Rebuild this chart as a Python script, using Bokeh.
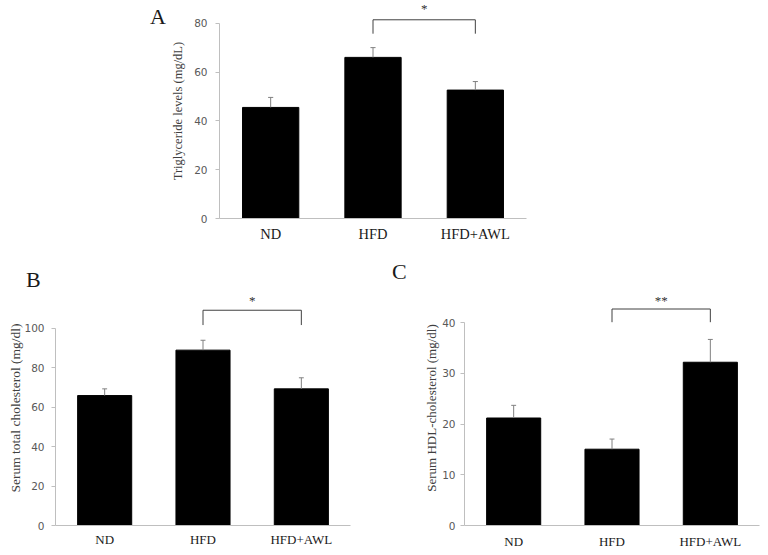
from bokeh.plotting import figure
from bokeh.layouts import column, row
from bokeh.models import ColumnDataSource, FixedTicker, Range1d, Div
from bokeh.core.properties import value
from bokeh.embed import file_html
from bokeh.resources import INLINE

# ---- data ----
groups = ["ND", "HFD", "HFD+AWL"]

tg_mean = [45.5, 66.0, 52.6]
tg_err = [4.1, 4.0, 3.5]

tc_mean = [65.8, 88.8, 69.2]
tc_err = [3.4, 5.0, 5.6]

hdl_mean = [21.2, 15.05, 32.2]
hdl_err = [2.5, 2.0, 4.5]

tg_ticks = [0, 20, 40, 60, 80]
tc_ticks = [0, 20, 40, 60, 80, 100]
hdl_ticks = [0, 10, 20, 30, 40]

SERIF = "Liberation Serif"
SANS = "DejaVu Sans"
AXIS_GREY = "#bfbfbf"


def panel(means, errs, ticks, y_end, ylabel, sig, sig_y,
          width, height, bl, br, bt, bb, ylab_size, xlab_size,
          tick_standoff, ylab_standoff, xlab_standoff):
    xs = list(range(len(groups)))
    tops = [m + e for m, e in zip(means, errs)]
    src = ColumnDataSource(dict(x=xs, mean=means, top=tops))

    p = figure(width=width, height=height, output_backend="svg",
               toolbar_location=None, x_range=Range1d(-0.5, 2.5),
               y_range=Range1d(0, y_end),
               min_border_left=bl, min_border_right=br,
               min_border_top=bt, min_border_bottom=bb, margin=0)
    p.outline_line_color = None
    p.grid.visible = False
    p.background_fill_color = "white"
    p.border_fill_color = "white"

    p.vbar(x="x", top="mean", width=0.55, source=src,
           fill_color="black", line_color="black")
    # upper error bars
    p.segment(x0="x", y0="mean", x1="x", y1="top", source=src,
              line_color="#808080", line_width=1)
    cap = 0.025
    p.segment(x0=[x - cap for x in xs], y0=tops, x1=[x + cap for x in xs],
              y1=tops, line_color="#808080", line_width=1)

    # significance bracket between HFD and HFD+AWL
    lo, hi, star_y = sig_y
    p.segment(x0=[1, 1, 2], y0=[lo, hi, hi], x1=[1, 2, 2], y1=[hi, hi, lo],
              line_color="#404040", line_width=1)
    p.text(x=[1.5], y=[star_y], text=[sig], text_font=value(SERIF),
           text_font_size="13px", text_align="center",
           text_baseline="middle", text_color="#303030")

    # axes
    ya = p.yaxis[0]
    ya.ticker = FixedTicker(ticks=ticks)
    ya.bounds = (ticks[0], ticks[-1])
    ya.axis_line_color = AXIS_GREY
    ya.major_tick_line_color = AXIS_GREY
    ya.major_tick_out = 4
    ya.major_tick_in = 0
    ya.minor_tick_line_color = None
    ya.major_label_text_font = SANS
    ya.major_label_text_font_size = "10.5px"
    ya.major_label_text_color = "#595959"
    ya.major_label_standoff = tick_standoff
    ya.axis_label = ylabel
    ya.axis_label_text_font = SERIF
    ya.axis_label_text_font_style = "normal"
    ya.axis_label_text_font_size = ylab_size
    ya.axis_label_text_color = "#404040"
    ya.axis_label_standoff = ylab_standoff

    xa = p.xaxis[0]
    xa.ticker = FixedTicker(ticks=xs)
    xa.major_label_overrides = {i: g for i, g in enumerate(groups)}
    xa.axis_line_color = AXIS_GREY
    xa.major_tick_line_color = None
    xa.major_tick_out = 0
    xa.major_tick_in = 0
    xa.minor_tick_line_color = None
    xa.major_label_text_font = SERIF
    xa.major_label_text_font_size = xlab_size
    xa.major_label_text_color = "#1a1a1a"
    xa.major_label_standoff = xlab_standoff
    return p


def letter(txt, width, height, pad_top, pad_left):
    html = ('<div style="padding:%dpx 0 0 %dpx;font-family:\'Liberation Serif\',serif;'
            'font-size:22px;line-height:16px;color:#1a1a1a;">%s</div>'
            % (pad_top, pad_left, txt))
    return Div(text=html, width=width, height=height, margin=0,
               styles={"overflow": "visible"})


pA = panel(tg_mean, tg_err, tg_ticks, 89.3, "Triglyceride  levels (mg/dL)",
           "*", (75.7, 81.4, 85.9),
           width=388, height=245, bl=49, br=30, bt=0, bb=27,
           ylab_size="12.5px", xlab_size="14.5px",
           tick_standoff=8, ylab_standoff=6, xlab_standoff=7)

pB = panel(tc_mean, tc_err, tc_ticks, 119.0, "Serum total cholesterol (mg/dl)",
           "*", (101.5, 109.0, 114.0),
           width=380, height=265, bl=55, br=30, bt=0, bb=27,
           ylab_size="13.5px", xlab_size="13px",
           tick_standoff=7, ylab_standoff=-2, xlab_standoff=6)

pC = panel(hdl_mean, hdl_err, hdl_ticks, 46.35, "Serum HDL-cholesterol (mg/dl)",
           "**", (40.1, 42.7, 44.4),
           width=388, height=265, bl=84, br=9, bt=0, bb=30,
           ylab_size="13px", xlab_size="13px",
           tick_standoff=5, ylab_standoff=0, xlab_standoff=8)

dA = letter("A", 168, 245, 9, 150)
dB = letter("B", 380, 45, 27, 26)
dC = letter("C", 388, 45, 19, 12)

layout = column(row(dA, pA), row(dB, dC), row(pB, pC))

open("out.html", "w").write(file_html(layout, INLINE))
